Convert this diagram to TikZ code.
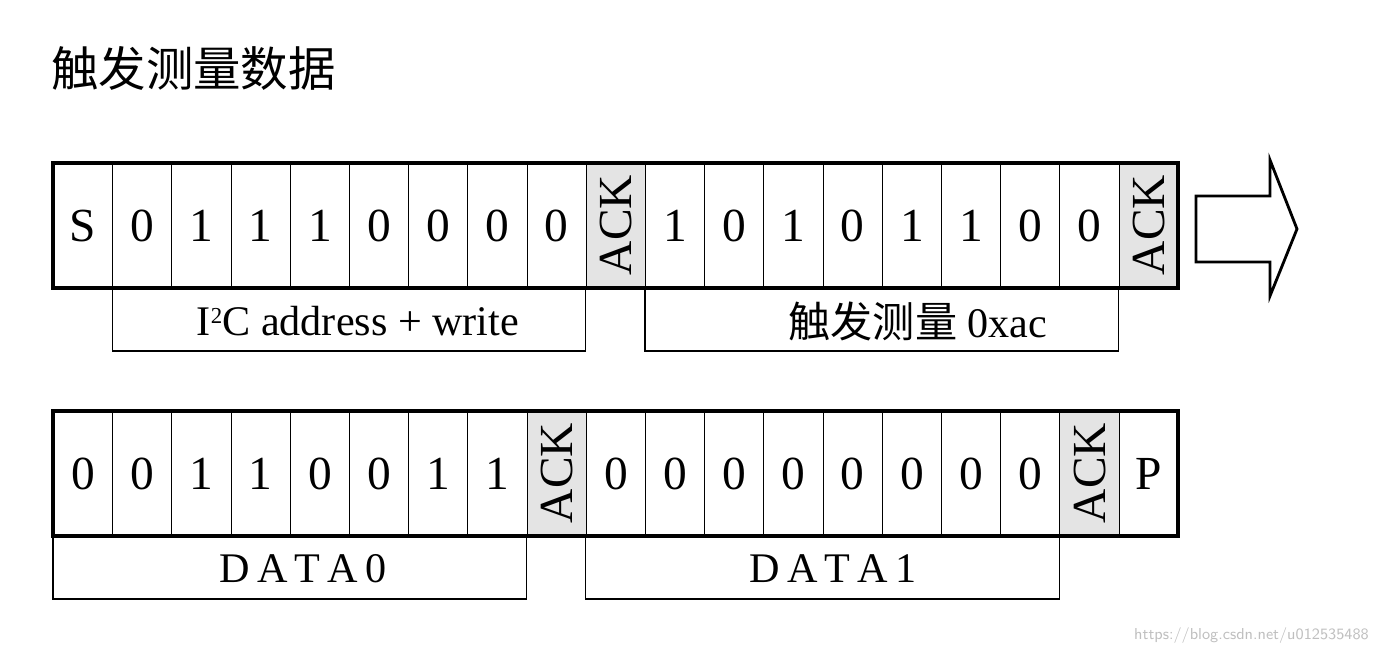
\documentclass[tikz,border=0pt]{standalone}
\usepackage{fontspec}
\setmainfont{Liberation Serif}
\newfontfamily\cjk{Noto Sans CJK SC}
\usetikzlibrary{positioning,calc}
\definecolor{ackgray}{RGB}{228,228,228}
\tikzset{
  bitcell/.style={draw,line width=0.6pt,minimum width=1.184cm,minimum height=2.5cm,inner sep=0pt,font=\fontsize{27}{27}\selectfont},
  ackcell/.style={bitcell,fill=ackgray,rotate=90,minimum width=2.5cm,minimum height=1.184cm},
  frame/.style={line width=2.4pt},
  bracket/.style={line width=0.6pt},
  fieldlabel/.style={font=\fontsize{24}{24}\selectfont}
}
\begin{document}
\begin{tikzpicture}
\useasboundingbox (0,0) rectangle (27.62,-13.08);
\node [anchor=west,font=\cjk\fontsize{27}{27}\selectfont] (title) at (0.9,-1.36) {触发测量数据};
% first frame
\coordinate (r1) at (1.06,-3.26);
\foreach \t [count=\i] in {S,0,1,1,1,0,0,0,0,ACK,1,0,1,0,1,1,0,0,ACK} {
  \ifnum\i=10 \node [ackcell,anchor=north west] (c\i) at ($(r1)+({(\i-1)*1.184},-2.5)$) {\t};
  \else\ifnum\i=19 \node [ackcell,anchor=north west] (c\i) at ($(r1)+({(\i-1)*1.184},-2.5)$) {\t};
  \else \node [bitcell,anchor=north west] (c\i) at ($(r1)+({(\i-1)*1.184},0)$) {\t};
  \fi\fi
}
\draw [frame] (r1) rectangle ++(22.5,-2.5);
% second frame
\coordinate (r2) at (1.06,-8.22);
\foreach \t [count=\i] in {0,0,1,1,0,0,1,1,ACK,0,0,0,0,0,0,0,0,ACK,P} {
  \ifnum\i=9 \node [ackcell,anchor=north west] (d\i) at ($(r2)+({(\i-1)*1.184},-2.5)$) {\t};
  \else\ifnum\i=18 \node [ackcell,anchor=north west] (d\i) at ($(r2)+({(\i-1)*1.184},-2.5)$) {\t};
  \else \node [bitcell,anchor=north west] (d\i) at ($(r2)+({(\i-1)*1.184},0)$) {\t};
  \fi\fi
}
\draw [frame] (r2) rectangle ++(22.5,-2.5);
% field brackets
\draw [bracket] ($(r1)+(1.184,-2.5)$) -- ++(0,-1.26) -- ++(9.472,0) -- ++(0,1.26);
\node [fieldlabel] (addr) at ($(r1)+(6.1,-3.16)$) {I{\fontsize{13}{13}\selectfont\raisebox{1.1ex}{2}}C address + write};
\draw [bracket] ($(r1)+(11.84,-2.5)$) -- ++(0,-1.26) -- ++(9.472,0) -- ++(0,1.26);
\node [fieldlabel] (cmd) at ($(r1)+(17.3,-3.16)$) {{\cjk 触发测量} 0xac};
\draw [bracket] ($(r2)+(0,-2.5)$) -- ++(0,-1.26) -- ++(9.472,0) -- ++(0,1.26);
\node [fieldlabel] (data0) at ($(r2)+(5.0,-3.16)$) {D\,A\,T\,A\,0};
\draw [bracket] ($(r2)+(10.656,-2.5)$) -- ++(0,-1.26) -- ++(9.472,0) -- ++(0,1.26);
\node [fieldlabel] (data1) at ($(r2)+(15.6,-3.16)$) {D\,A\,T\,A\,1};
% continuation arrow
\draw [line width=1.6pt] (23.92,-3.92) -- (25.4,-3.92) -- (25.4,-3.2) -- (25.94,-4.58)
  -- (25.4,-5.92) -- (25.4,-5.24) -- (23.92,-5.24) -- cycle;
\node [anchor=south east,text=gray!50,font=\sffamily\fontsize{9}{9}\selectfont] (mark) at (27.5,-13.0) {https://blog.csdn.net/u012535488};
\end{tikzpicture}
\end{document}
